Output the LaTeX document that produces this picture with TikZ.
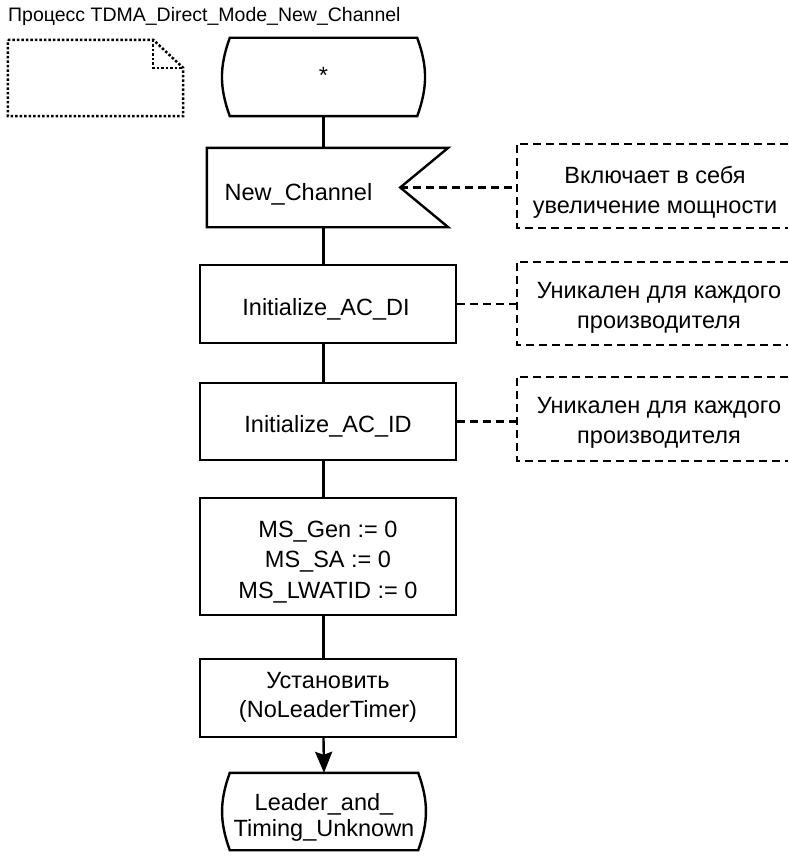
\documentclass[tikz,border=0pt]{standalone}
\usepackage{fontspec}
\setmainfont{Liberation Sans}
\usetikzlibrary{arrows.meta}
\begin{document}
\begin{tikzpicture}[x=1pt,y=-1pt,
  sdl/.style={draw=black, line width=2.4pt, line join=miter},
  shp/.style={rectangle, inner sep=0pt},
  txt/.style={inner sep=0pt, align=center, anchor=base, font=\fontsize{23.5}{30}\selectfont},
  box/.style={shp, sdl, minimum width=256pt},
  conn/.style={line width=2.4pt},
  cmt/.style={line width=2.2pt, dash pattern=on 8pt off 5pt},
  docline/.style={line width=2.5pt, dash pattern=on 2.5pt off 2pt},
]
\useasboundingbox (0,0) rectangle (788,856);

% title
\node[anchor=base west, inner sep=0pt, font=\fontsize{19.5}{24}\selectfont] (title) at (8,22) {Процесс TDMA\_Direct\_Mode\_New\_Channel};

% dotted text symbol
\node[shp, minimum width=175pt, minimum height=76pt] (doc) at (95.5,78) {};
\draw[docline] (doc.north west) -- ([xshift=-30pt]doc.north east) -- ([yshift=-28pt]doc.north east) -- (doc.south east) -- (doc.south west) -- cycle;
\draw[docline] ([xshift=-30pt]doc.north east) -- ([xshift=-30pt,yshift=-28pt]doc.north east) -- ([yshift=-28pt]doc.north east);

% start
\node[shp, minimum width=201pt, minimum height=78pt] (start) at (323.5,77) {};
\node[txt] (starttext) at (323.5,84) {*};
\draw[sdl] ([xshift=7pt]start.north west) -- ([xshift=-7pt]start.north east) to[bend left=20] ([xshift=-7pt]start.south east) -- ([xshift=7pt]start.south west) to[bend left=20] ([xshift=7pt]start.north west) -- cycle;

% input signal
\node[shp, minimum width=241pt, minimum height=79pt] (nc) at (327.5,187.5) {};
\node[txt] (nctext) at (298.5,200) {New\_Channel};
\coordinate (notch) at ([xshift=-48pt]nc.east);
\draw[sdl] (nc.north west) -- (nc.north east) -- (notch) -- (nc.south east) -- (nc.south west) -- cycle;

% tasks
\node[box, minimum height=78pt] (di) at (328,304) {};
\node[txt] (ditext) at (326,315) {Initialize\_AC\_DI};
\node[box, minimum height=77pt] (id) at (328,421.5) {};
\node[txt] (idtext) at (328,432) {Initialize\_AC\_ID};
\node[box, minimum height=117pt] (ms) at (328,556.5) {};
\node[txt, font=\fontsize{23.5}{30.5}\selectfont] (mstext) at (328,598) {MS\_Gen := 0\\MS\_SA := 0\\MS\_LWATID := 0};
\node[box, minimum height=78pt] (set) at (328,698) {};
\node[txt, font=\fontsize{23.5}{29}\selectfont] (settext) at (328,717) {Установить\\(NoLeaderTimer)};

% end state
\node[shp, minimum width=202pt, minimum height=77pt] (end) at (324,811.5) {};
\node[txt, font=\fontsize{23.5}{26}\selectfont] (endtext) at (324,836) {Leader\_and\_\\Timing\_Unknown};
\draw[sdl] ([xshift=7pt]end.north west) -- ([xshift=-7pt]end.north east) to[bend left=20] ([xshift=-7pt]end.south east) -- ([xshift=7pt]end.south west) to[bend left=20] ([xshift=7pt]end.north west) -- cycle;

% comments
\node[shp, minimum width=271pt, minimum height=84pt] (c1) at (652.5,186) {};
\node[txt] (c1text) at (655,213) {Включает в себя\\увеличение мощности};
\draw[cmt] (c1.north east) -- (c1.north west) -- (c1.south west) -- (c1.south east);
\node[shp, minimum width=271pt, minimum height=83pt] (c2) at (652.5,303.5) {};
\node[txt] (c2text) at (659,328) {Уникален для каждого\\производителя};
\draw[cmt] (c2.north east) -- (c2.north west) -- (c2.south west) -- (c2.south east);
\node[shp, minimum width=271pt, minimum height=84pt] (c3) at (652.5,419) {};
\node[txt] (c3text) at (659,443) {Уникален для каждого\\производителя};
\draw[cmt] (c3.north east) -- (c3.north west) -- (c3.south west) -- (c3.south east);

% flow lines
\draw[conn] (start.south) -- (start.south |- nc.north);
\draw[conn] (nc.south -| start) -- (di.north -| start);
\draw[conn] (di.south -| start) -- (id.north -| start);
\draw[conn] (id.south -| start) -- (ms.north -| start);
\draw[conn] (ms.south -| start) -- (set.north -| start);
\draw[conn, -{Stealth[length=21pt,width=17pt,inset=3pt]}] (set.south -| start) -- (end.north);

% comment connectors
\draw[cmt] (notch) -- (notch -| c1.west);
\draw[cmt] (di.east) -- (di.east -| c2.west);
\draw[cmt] (id.east) -- (id.east -| c3.west);
\end{tikzpicture}
\end{document}
